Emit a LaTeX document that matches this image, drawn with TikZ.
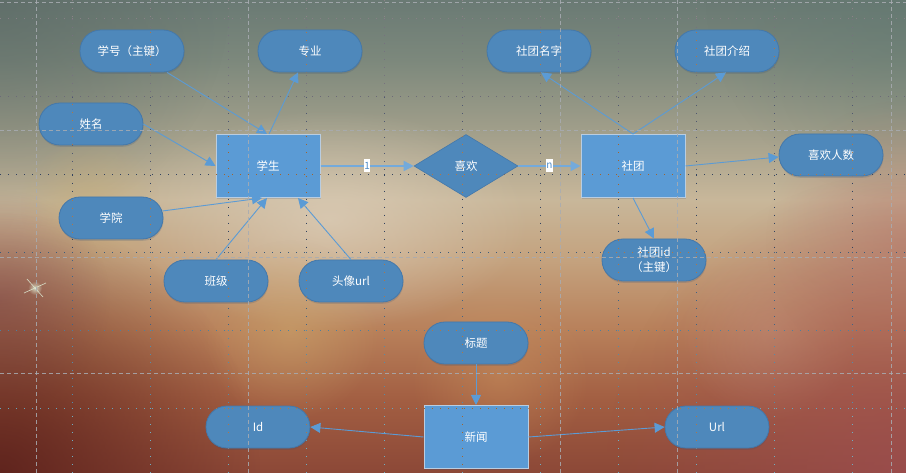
\documentclass[tikz,border=0pt]{standalone}
\usepackage{fontspec}
\setmainfont{Noto Sans CJK SC}
\usetikzlibrary{shapes.geometric,arrows.meta,calc,fadings,shadows}

\definecolor{attrfill}{RGB}{78,136,187}
\definecolor{attrdraw}{RGB}{68,120,170}
\definecolor{entfill}{RGB}{91,155,213}
\definecolor{entdraw}{RGB}{185,205,225}
\definecolor{edgecol}{RGB}{91,155,213}
\definecolor{lblcol}{RGB}{80,140,200}
\definecolor{dashcol}{RGB}{168,172,178}
\definecolor{shadowcol}{RGB}{55,80,115}
\definecolor{dotattr}{RGB}{177,119,68}
\definecolor{dotent}{RGB}{164,100,42}

\definecolor{bA}{RGB}{106,122,116}
\definecolor{bB}{RGB}{124,136,124}
\definecolor{bC}{RGB}{160,158,138}
\definecolor{bD}{RGB}{200,183,154}
\definecolor{bE}{RGB}{196,162,126}
\definecolor{bF}{RGB}{184,128,90}
\definecolor{bG}{RGB}{162,94,66}
\definecolor{bH}{RGB}{140,72,55}

% dot colours per band (difference with the background)
\definecolor{dA}{RGB}{140,130,136}
\definecolor{dB}{RGB}{118,114,126}
\definecolor{dC}{RGB}{80,88,112}
\definecolor{dD}{RGB}{50,66,95}
\definecolor{dE}{RGB}{62,100,135}
\definecolor{dF}{RGB}{82,140,172}
\definecolor{dG}{RGB}{110,175,196}
\definecolor{hA}{RGB}{135,128,134}
\definecolor{hB}{RGB}{108,106,120}
\definecolor{hC}{RGB}{50,66,95}
\definecolor{hD}{RGB}{58,92,124}
\definecolor{hE}{RGB}{75,128,160}
\definecolor{hF}{RGB}{102,166,190}

\pgfdeclareverticalshading{bgshade}{100bp}{%
 color(0bp)=(bH); color(25bp)=(bH); color(32.7bp)=(bG); color(40.1bp)=(bF);
 color(47.5bp)=(bE); color(53.9bp)=(bD); color(61.3bp)=(bC); color(68.7bp)=(bB);
 color(75bp)=(bA); color(100bp)=(bA)}

\tikzfading[name=radfade, inner color=transparent!0, outer color=transparent!100]

\tikzset{
  attr/.style={rectangle, rounded corners=20.9pt, fill=attrfill, draw=attrdraw,
    line width=0.8pt, minimum width=104pt, minimum height=42pt, inner sep=0pt,
    text=white, font=\fontsize{11.5}{15}\selectfont,
    drop shadow={shadow xshift=0.5pt, shadow yshift=-1.8pt, opacity=0.2, fill=shadowcol}},
  entity/.style={rectangle, fill=entfill, draw=entdraw, line width=1pt,
    minimum width=104pt, minimum height=63pt, inner sep=0pt,
    text=white, font=\fontsize{11.5}{15}\selectfont,
    drop shadow={shadow xshift=0.5pt, shadow yshift=-1.8pt, opacity=0.18, fill=shadowcol}},
  rel/.style={diamond, aspect=1.65, fill=attrfill, draw=attrdraw, line width=0.6pt,
    minimum width=104pt, minimum height=63pt, inner sep=0pt,
    text=white, font=\fontsize{11.5}{15}\selectfont},
  conn/.style={draw=edgecol, line width=0.9pt, -{Triangle[length=10pt,width=10pt]}},
  thickconn/.style={draw=edgecol!85!white, line width=1.6pt, -{Triangle[length=10pt,width=10pt]}},
  lbl/.style={fill=white, text=lblcol, inner xsep=0.6pt, inner ysep=0pt,
    minimum height=13pt, font=\fontsize{10}{12}\selectfont},
  blob/.style={path fading=radfade},
  dotline/.style={line width=1pt, dash pattern=on 1pt off 7pt},
  dashline/.style={dashcol, opacity=0.85, line width=1pt, dash pattern=on 4pt off 3pt}
}

\newcommand{\fulldotgrid}[1]{%
  \foreach \x in {72,150,...,852} \draw[dotline,#1] (\x,0) -- (\x,473);
  \foreach \y in {19,96.8,174.6,252.4,330.2,408} \draw[dotline,#1] (0,\y) -- (906,\y);
}

\begin{document}
\begin{tikzpicture}[x=1pt,y=-1pt]
\useasboundingbox (0,0) rectangle (906,473);
% background
\shade[shading=bgshade] (0,0) rectangle (906,473);
\fill[blob, color={rgb,255:red,90;green,104;blue,100}, opacity=0.6] (0,0) circle (230);
\fill[blob, color={rgb,255:red,96;green,120;blue,112}, opacity=0.5] (906,0) circle (200);
\fill[blob, color={rgb,255:red,222;green,208;blue,188}, opacity=0.7] (330,220) ellipse (200 and 110);
\fill[blob, color={rgb,255:red,200;green,172;blue,112}, opacity=0.45] (90,205) circle (70);
\fill[blob, color={rgb,255:red,150;green,96;blue,96}, opacity=0.6] (0,300) circle (110);
\fill[blob, color={rgb,255:red,206;green,170;blue,110}, opacity=0.5] (290,330) circle (90);
\fill[blob, color={rgb,255:red,205;green,150;blue,95}, opacity=0.45] (500,375) circle (90);
\fill[blob, color={rgb,255:red,205;green,165;blue,135}, opacity=0.5] (770,330) circle (90);
\fill[blob, color={rgb,255:red,185;green,125;blue,110}, opacity=0.55] (906,240) circle (140);
\fill[blob, color={rgb,255:red,88;green,30;blue,25}, opacity=0.85] (0,473) circle (260);
\fill[blob, color={rgb,255:red,158;green,78;blue,82}, opacity=0.75] (906,473) circle (300);
% sparkle
\fill[blob, color={rgb,255:red,225;green,240;blue,215}, opacity=0.8] (35,288) circle (7);
\draw[color={rgb,255:red,225;green,238;blue,215}, line width=0.7pt, opacity=0.8] (27,279) -- (43,297);
\draw[color={rgb,255:red,225;green,238;blue,215}, line width=0.7pt, opacity=0.8] (24,293) -- (46,283);

% dotted grid on the background
\foreach \ya/\yb/\c in {0/19/dA, 19/96.8/dB, 96.8/174.6/dC, 174.6/252.4/dD, 252.4/330.2/dE, 330.2/408/dF, 408/473/dG}
  {\foreach \x in {72,150,...,852} \draw[dotline,\c] (\x,\ya) -- (\x,\yb);}
\foreach \y/\c in {19/hA, 96.8/hB, 174.6/hC, 252.4/hD, 330.2/hE, 408/hF}
  \draw[dotline,\c] (0,\y) -- (906,\y);

% nodes
\node[attr] (xh) at (132,51) {学号（主键）};
\node[attr] (zy) at (310,51) {专业};
\node[attr] (xm) at (91,124) {姓名};
\node[entity] (xs) at (268,166) {学生};
\node[attr] (xy) at (111,218) {学院};
\node[attr] (bj) at (216,281) {班级};
\node[attr] (tx) at (351,281) {头像url};
\node[rel] (xx) at (466,166) {喜欢};
\node[entity] (st) at (633,166) {社团};
\node[attr] (stmz) at (539,51) {社团名字};
\node[attr] (stjs) at (727,51) {社团介绍};
\node[attr] (rs) at (831,155) {喜欢人数};
\node[attr, align=center] (sid) at (654,260) {社团id\\（主键）};
\node[attr] (bt) at (476,343) {标题};
\node[entity] (xw) at (476,437) {新闻};
\node[attr] (id) at (258,427) {Id};
\node[attr] (url) at (717,427) {Url};

% connectors
\draw[conn] ($(xh.south)+(35,0)$) -- ($(xs.north)+(-1,0)$);
\draw[conn] ($(xs.north)+(1,0)$) -- ($(zy.south)+(-12,0)$);
\draw[conn] (xm.east) -- (xs.west);
\draw[conn] ($(xy.east)+(-1,-7)$) -- ($(xs.south)+(-6,0)$);
\draw[conn] (bj.north) -- ($(xs.south)+(-1,0)$);
\draw[conn] (tx.north) -- ($(xs.south)+(30,0)$);
\draw[thickconn] (xs.east) -- node[lbl] {1} (xx.west);
\draw[thickconn] (xx.east) -- node[lbl] {n} (st.west);
\draw[conn] (st.north) -- ($(stmz.south)+(2,0)$);
\draw[conn] (st.north) -- ($(stjs.south)+(-1,0)$);
\draw[conn] (st.east) -- ($(rs.west)+(0,2)$);
\draw[conn] (st.south) -- (sid.north);
\draw[conn] (bt.south) -- (xw.north);
\draw[conn] (xw.west) -- (id.east);
\draw[conn] (xw.east) -- (url.west);

% dotted grid seen over the nodes (orange)
\begin{scope}
  \clip[rounded corners=20.9pt]
    (xh.south west) rectangle (xh.north east)
    (zy.south west) rectangle (zy.north east)
    (xm.south west) rectangle (xm.north east)
    (xy.south west) rectangle (xy.north east)
    (bj.south west) rectangle (bj.north east)
    (tx.south west) rectangle (tx.north east)
    (stmz.south west) rectangle (stmz.north east)
    (stjs.south west) rectangle (stjs.north east)
    (rs.south west) rectangle (rs.north east)
    (sid.south west) rectangle (sid.north east)
    (bt.south west) rectangle (bt.north east)
    (id.south west) rectangle (id.north east)
    (url.south west) rectangle (url.north east)
    [sharp corners] (xx.north) -- (xx.east) -- (xx.south) -- (xx.west) -- cycle;
  \fulldotgrid{dotattr}
\end{scope}
\begin{scope}
  \clip (xs.south west) rectangle (xs.north east)
        (st.south west) rectangle (st.north east)
        (xw.south west) rectangle (xw.north east);
  \fulldotgrid{dotent}
\end{scope}

% dashed grid overlay
\foreach \x in {36,248,560,677,891} \draw[dashline] (\x,0) -- (\x,473);
\foreach \y in {3,131,258,374} \draw[dashline] (0,\y) -- (906,\y);
\end{tikzpicture}
\end{document}
